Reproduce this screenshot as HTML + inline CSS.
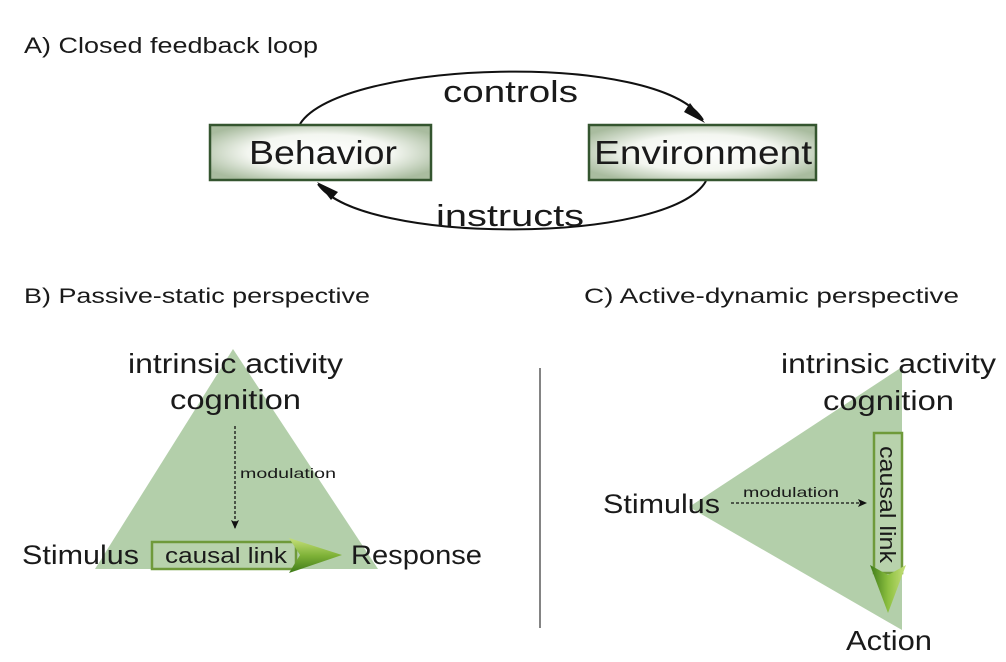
<!DOCTYPE html>
<html><head><meta charset="utf-8"><style>
html,body{margin:0;padding:0;background:#fff;}
svg{display:block;}
text{font-family:"Liberation Sans",sans-serif;fill:#1a1a1a;}
</style></head><body>
<svg width="1006" height="662" viewBox="0 0 1006 662" xmlns="http://www.w3.org/2000/svg">
<defs>
<radialGradient id="bx" cx="50%" cy="50%" r="60%">
<stop offset="0" stop-color="#ffffff"/><stop offset="0.55" stop-color="#f3f6f0"/><stop offset="1" stop-color="#a9bc9f"/>
</radialGradient>
<linearGradient id="arr" x1="0" y1="0" x2="0" y2="1">
<stop offset="0" stop-color="#c6e07a"/><stop offset="0.5" stop-color="#7fb238"/><stop offset="1" stop-color="#3d7a18"/>
</linearGradient>
<linearGradient id="arr2" x1="0" y1="0" x2="1" y2="0">
<stop offset="0" stop-color="#3d7a18"/><stop offset="0.5" stop-color="#8cbf40"/><stop offset="1" stop-color="#c6e07a"/>
</linearGradient>
<marker id="ah" markerWidth="10" markerHeight="10" refX="8" refY="5" orient="auto" markerUnits="userSpaceOnUse">
<path d="M0,1 L9,5 L0,9 L2,5 Z" fill="#111"/>
</marker>
</defs>

<text x="24" y="53" font-size="22" textLength="294" lengthAdjust="spacingAndGlyphs">A) Closed feedback loop</text>

<!-- loop -->
<path d="M300,124 C340,60 660,50 703,120" fill="none" stroke="#111" stroke-width="2"/>
<path d="M690,103 L705,123 L684,112 Z" fill="#111"/>
<path d="M706,181 C670,245 360,245 318,184" fill="none" stroke="#111" stroke-width="2"/>
<path d="M331,200 L317,182 L338,192 Z" fill="#111"/>

<rect x="210" y="125" width="221" height="55" fill="url(#bx)" stroke="#34552f" stroke-width="2.5"/>
<text x="249" y="164" font-size="33" textLength="148" lengthAdjust="spacingAndGlyphs">Behavior</text>
<rect x="589" y="125" width="227" height="55" fill="url(#bx)" stroke="#34552f" stroke-width="2.5"/>
<text x="594" y="164" font-size="33" textLength="218" lengthAdjust="spacingAndGlyphs">Environment</text>

<text x="443" y="102" font-size="31" textLength="135" lengthAdjust="spacingAndGlyphs">controls</text>
<text x="436" y="226" font-size="31" textLength="148" lengthAdjust="spacingAndGlyphs">instructs</text>

<text x="24" y="303" font-size="21" textLength="346" lengthAdjust="spacingAndGlyphs">B) Passive-static perspective</text>
<text x="584" y="303" font-size="21" textLength="375" lengthAdjust="spacingAndGlyphs">C) Active-dynamic perspective</text>

<line x1="540" y1="368" x2="540" y2="628" stroke="#333" stroke-width="1.2"/>

<!-- B -->
<polygon points="233,349 95,569 378,569" fill="#b3cfaa"/>
<text x="128" y="373" font-size="28" textLength="215" lengthAdjust="spacingAndGlyphs">intrinsic activity</text>
<text x="170" y="409" font-size="28" textLength="131" lengthAdjust="spacingAndGlyphs">cognition</text>
<line x1="235" y1="426" x2="235" y2="528" stroke="#111" stroke-width="1.3" stroke-dasharray="3,2" marker-end="url(#ah)"/>
<text x="240" y="478" font-size="14" textLength="96" lengthAdjust="spacingAndGlyphs">modulation</text>
<text x="22" y="564" font-size="27" textLength="117" lengthAdjust="spacingAndGlyphs">Stimulus</text>
<text x="351" y="564" font-size="27" textLength="131" lengthAdjust="spacingAndGlyphs">Response</text>
<rect x="152" y="542" width="144" height="27" fill="#b8d2ac" stroke="#6f9a3a" stroke-width="2.5"/>
<text x="165" y="563" font-size="22" textLength="122" lengthAdjust="spacingAndGlyphs">causal link</text>
<path d="M289,538 L342,555 L289,573 L300,555 Z" fill="url(#arr)"/>

<!-- C -->
<polygon points="689,507 902,367 902,630" fill="#b3cfaa"/>
<text x="781" y="373" font-size="28" textLength="215" lengthAdjust="spacingAndGlyphs">intrinsic activity</text>
<text x="823" y="410" font-size="28" textLength="131" lengthAdjust="spacingAndGlyphs">cognition</text>
<text x="603" y="513" font-size="27" textLength="117" lengthAdjust="spacingAndGlyphs">Stimulus</text>
<line x1="731" y1="503" x2="866" y2="503" stroke="#111" stroke-width="1.3" stroke-dasharray="3,2" marker-end="url(#ah)"/>
<text x="743" y="497" font-size="14" textLength="96" lengthAdjust="spacingAndGlyphs">modulation</text>
<rect x="874" y="433" width="28" height="140" fill="#b8d2ac" stroke="#6f9a3a" stroke-width="2.5"/>
<text transform="translate(880,446) rotate(90)" font-size="22" textLength="117" lengthAdjust="spacingAndGlyphs">causal link</text>
<path d="M870,565 L888,613 L906,565 L888,575 Z" fill="url(#arr2)"/>
<text x="846" y="650" font-size="28" textLength="86" lengthAdjust="spacingAndGlyphs">Action</text>
</svg>
</body></html>
